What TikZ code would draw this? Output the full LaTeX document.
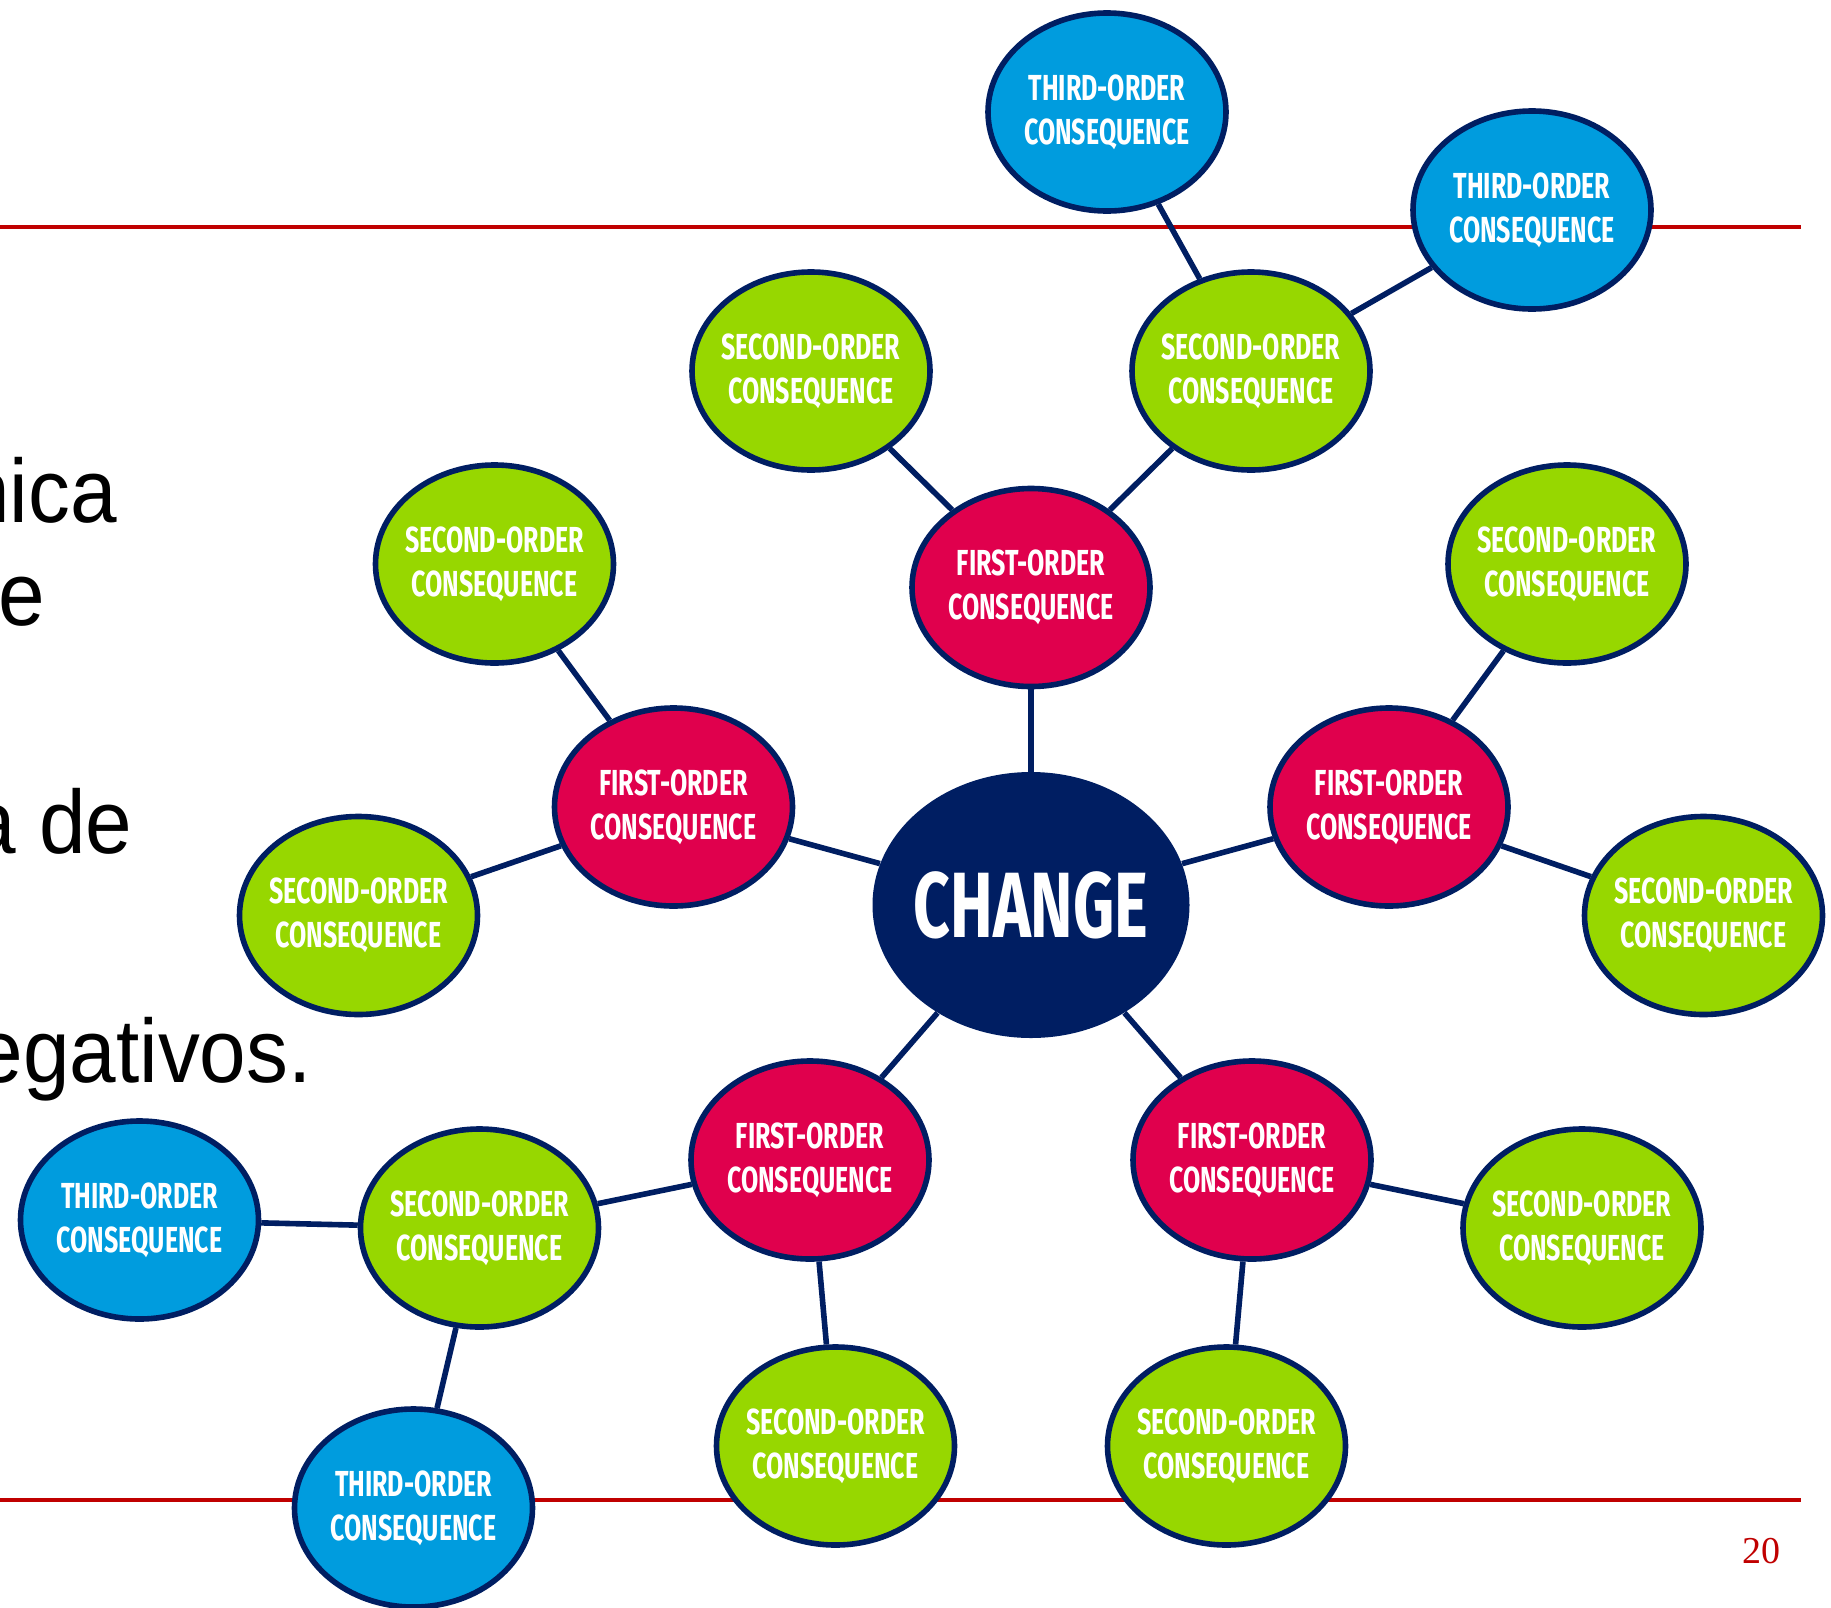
\documentclass[tikz,border=0pt]{standalone}
\usepackage{fontspec}
\setmainfont{Liberation Sans}[FakeStretch=0.93]
\newfontfamily\lblfont{Fira Sans}[FakeStretch=0.69]
\newfontfamily\numfont{Liberation Serif}
\usetikzlibrary{shapes.geometric}
\definecolor{navy}{RGB}{0,30,98}
\definecolor{firstred}{RGB}{224,0,77}
\definecolor{secgreen}{RGB}{151,215,0}
\definecolor{thirdblue}{RGB}{0,156,222}
\definecolor{rulered}{RGB}{192,0,0}
\pgfdeclarelayer{back}
\pgfdeclarelayer{conn}
\pgfsetlayers{back,conn,main}
\begin{document}
\begin{tikzpicture}[x=0.5pt,y=-0.5pt,
  link/.style={draw=navy,line width=2.8pt},
  ell/.style={ellipse,draw=navy,line width=2.8pt,minimum width=119pt,minimum height=99pt,
    inner xsep=-12pt,inner ysep=0pt,text=white,align=center,
    font=\lblfont\bfseries\fontsize{18.1pt}{22pt}\selectfont},
  first/.style={ell,fill=firstred},
  second/.style={ell,fill=secgreen},
  third/.style={ell,fill=thirdblue},
  centre/.style={ellipse,fill=navy,minimum width=158.5pt,minimum height=133pt,inner xsep=-12pt,inner ysep=0pt,
    text=white,font=\lblfont\bfseries\fontsize{46.4pt}{50pt}\selectfont},
  body/.style={anchor=base east,inner sep=0pt,font=\fontsize{45pt}{54pt}\selectfont},
  rule/.style={draw=rulered,line width=2pt}]
\useasboundingbox (0,0) rectangle (1831,1607);
\clip (0,0) rectangle (1831,1607);

% slide text (cut at left edge)
\node[body] (t1) at (117,522) {nica};
\node[body] (t2) at (45,625) {e};
\node[body] (t3) at (133,853) {a de};
\node[body] (t4) at (312,1082) {egativos.};

% centre
\node[centre] (c) at (1031,905) {CHANGE};

% first order
\node[first] (f1) at (1031,587.5) {FIRST-ORDER\\CONSEQUENCE};
\node[first] (f2) at (673.5,807) {FIRST-ORDER\\CONSEQUENCE};
\node[first] (f3) at (1389,807) {FIRST-ORDER\\CONSEQUENCE};
\node[first] (f4) at (810,1160) {FIRST-ORDER\\CONSEQUENCE};
\node[first] (f5) at (1252,1160) {FIRST-ORDER\\CONSEQUENCE};

% second order
\node[second] (s1) at (811,371) {SECOND-ORDER\\CONSEQUENCE};
\node[second] (s2) at (1251,371) {SECOND-ORDER\\CONSEQUENCE};
\node[second] (s3) at (494.5,564) {SECOND-ORDER\\CONSEQUENCE};
\node[second] (s4) at (358.5,915.5) {SECOND-ORDER\\CONSEQUENCE};
\node[second] (s5) at (1567,564) {SECOND-ORDER\\CONSEQUENCE};
\node[second] (s6) at (1703.5,915.5) {SECOND-ORDER\\CONSEQUENCE};
\node[second] (s7) at (479.5,1228) {SECOND-ORDER\\CONSEQUENCE};
\node[second] (s8) at (835.5,1446) {SECOND-ORDER\\CONSEQUENCE};
\node[second] (s9) at (1226.5,1446) {SECOND-ORDER\\CONSEQUENCE};
\node[second] (s10) at (1582,1228) {SECOND-ORDER\\CONSEQUENCE};

% third order
\node[third] (r1) at (1107,112) {THIRD-ORDER\\CONSEQUENCE};
\node[third] (r2) at (1532,210) {THIRD-ORDER\\CONSEQUENCE};
\node[third] (r3) at (139.5,1220) {THIRD-ORDER\\CONSEQUENCE};
\node[third] (r4) at (413.5,1508) {THIRD-ORDER\\CONSEQUENCE};

% page number
\node[anchor=base east,inner sep=0pt,text=rulered,font=\numfont\fontsize{19pt}{22pt}\selectfont] (pg) at (1781,1563) {20};

\begin{pgfonlayer}{conn}
\draw[link] (c) -- (f1);
\draw[link] (c) -- (f2);
\draw[link] (c) -- (f3);
\draw[link] (c) -- (f4);
\draw[link] (c) -- (f5);
\draw[link] (f1) -- (s1);
\draw[link] (f1) -- (s2);
\draw[link] (s2) -- (r1);
\draw[link] (s2) -- (r2);
\draw[link] (f2) -- (s3);
\draw[link] (f2) -- (s4);
\draw[link] (f3) -- (s5);
\draw[link] (f3) -- (s6);
\draw[link] (f4) -- (s7);
\draw[link] (f4) -- (s8);
\draw[link] (s7) -- (r3);
\draw[link] (s7) -- (r4);
\draw[link] (f5) -- (s9);
\draw[link] (f5) -- (s10);
\end{pgfonlayer}

\begin{pgfonlayer}{back}
\coordinate (ta) at (0,226.5);
\coordinate (tb) at (1801,226.5);
\coordinate (ba) at (0,1499.5);
\coordinate (bb) at (1801,1499.5);
\draw[rule] (ta) -- (tb);
\draw[rule] (ba) -- (bb);
\end{pgfonlayer}
\end{tikzpicture}
\end{document}
